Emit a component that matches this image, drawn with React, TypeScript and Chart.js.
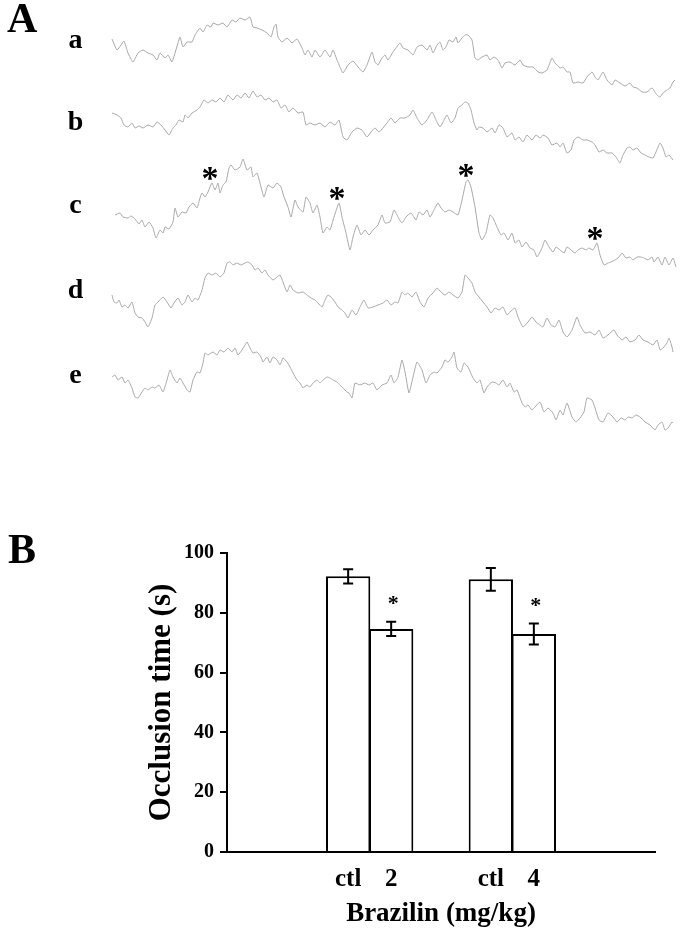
import React, { useEffect, useRef } from "react";
import { Chart, registerables } from "chart.js";

Chart.register(...registerables);

const SERIF = '"Liberation Serif", "Times New Roman", serif';
Chart.defaults.font.family = SERIF;

// ---------------- Panel A: recorded traces (time, amplitude) ----------------
const traceNames = ["a", "b", "c", "d", "e"];

const traceA: [number, number][] = [
  [112,61],[117,50],[121,55],[124,59],[128,47],[133,38],[138,47],[143,50],[148,47],[153,45],[157,40],[160,47],[165,42],[168,45],[172,38],[175,47],[178,57],[180,63],[183,53],[187,58],[192,58],[195,65],[200,72],[203,68],[207,75],[211,73],[213,77],[218,75],[223,77],[227,73],[232,80],[236,78],[240,82],[245,80],[250,83],[253,73],[257,72],[262,70],[267,67],[271,63],[274,73],[276,76],[278,63],[282,58],[287,62],[292,57],[297,61],[302,52],[305,45],[308,50],[312,43],[315,50],[320,43],[325,50],[330,43],[333,50],[337,40],[340,33],[343,27],[348,35],[353,39],[358,33],[363,28],[367,35],[372,48],[375,38],[378,35],[382,42],[385,45],[388,40],[393,48],[400,57],[403,52],[408,50],[413,45],[417,53],[422,55],[427,50],[430,55],[433,47],[437,55],[440,58],[443,50],[446,53],[449,60],[453,58],[456,63],[458,57],[462,62],[465,65],[468,65],[472,60],[475,42],[478,40],[482,43],[487,45],[490,40],[494,43],[498,40],[502,32],[505,37],[510,38],[515,35],[520,40],[523,35],[528,33],[533,33],[538,28],[542,27],[547,30],[552,42],[555,37],[560,32],[563,33],[567,28],[570,28],[573,17],[578,18],[583,17],[587,23],[592,28],[595,23],[598,20],[603,28],[607,20],[612,15],[615,20],[620,17],[625,14],[630,17],[633,13],[637,12],[642,8],[647,8],[652,12],[657,5],[660,3],[663,7],[667,10],[670,12],[673,18],[675,20]
];

const traceB: [number, number][] = [
  [112,52],[117,50],[121,47],[124,40],[128,38],[132,42],[135,37],[139,39],[143,37],[148,40],[153,38],[157,43],[161,40],[165,35],[169,30],[173,37],[176,40],[179,45],[183,43],[185,50],[188,47],[192,52],[197,55],[200,58],[204,65],[208,62],[212,65],[216,63],[220,67],[224,63],[228,70],[233,65],[237,70],[241,67],[245,72],[249,67],[253,74],[257,68],[261,70],[265,65],[269,67],[273,63],[277,65],[281,57],[285,60],[289,53],[293,57],[298,52],[303,53],[306,40],[310,42],[315,40],[320,42],[325,38],[330,43],[335,40],[339,45],[343,28],[347,25],[352,33],[357,37],[362,35],[367,28],[371,33],[375,37],[379,33],[383,37],[387,42],[391,47],[395,42],[400,47],[405,47],[410,50],[413,55],[417,47],[422,40],[427,45],[432,53],[436,45],[440,38],[443,43],[447,50],[451,42],[455,47],[458,57],[462,60],[465,63],[468,62],[471,55],[474,42],[477,35],[479,38],[483,37],[487,33],[492,37],[495,32],[499,40],[503,37],[507,28],[512,32],[515,25],[519,28],[523,23],[527,30],[532,25],[536,30],[540,27],[543,30],[548,27],[552,20],[557,22],[560,18],[563,22],[567,12],[571,15],[574,25],[578,28],[583,25],[587,25],[592,23],[595,20],[599,13],[603,15],[607,12],[612,12],[616,8],[620,2],[623,10],[627,17],[630,18],[633,15],[637,17],[641,12],[645,10],[649,8],[653,7],[656,13],[660,22],[663,17],[666,8],[669,10],[673,5]
];

const traceC: [number, number][] = [
  [115,60],[120,62],[123,58],[128,57],[131,59],[135,56],[139,51],[142,55],[145,48],[149,53],[153,47],[156,37],[160,45],[163,42],[165,48],[169,46],[173,53],[175,67],[178,58],[182,63],[186,62],[189,68],[193,72],[197,67],[200,77],[202,82],[205,78],[208,83],[210,88],[212,92],[215,85],[218,92],[220,82],[223,90],[226,93],[229,107],[231,110],[235,105],[240,108],[243,116],[247,105],[251,108],[253,98],[257,102],[261,88],[264,78],[268,90],[273,87],[277,92],[281,88],[284,78],[288,68],[291,58],[295,75],[298,68],[303,63],[306,78],[310,72],[313,62],[317,70],[320,58],[323,42],[327,48],[330,45],[334,58],[339,72],[342,58],[346,42],[350,25],[353,38],[357,50],[361,40],[365,45],[369,40],[373,45],[378,50],[382,60],[385,52],[390,53],[394,65],[398,58],[402,52],[406,58],[411,62],[416,55],[419,63],[423,60],[427,65],[430,58],[434,65],[438,72],[441,67],[445,63],[449,65],[453,63],[458,60],[462,75],[466,93],[468,95],[471,88],[475,68],[479,42],[482,35],[486,42],[490,60],[493,57],[497,48],[501,40],[504,42],[508,35],[512,42],[515,32],[519,35],[522,28],[526,33],[530,27],[534,25],[537,18],[542,27],[545,35],[549,28],[553,23],[556,28],[560,25],[564,22],[567,28],[571,25],[575,22],[578,25],[582,27],[586,25],[589,27],[593,25],[597,32],[600,20],[604,10],[608,12],[611,13],[615,15],[619,18],[622,22],[626,17],[630,18],[633,15],[637,18],[641,18],[644,17],[648,15],[652,18],[654,13],[658,18],[662,10],[665,18],[669,10],[673,17],[676,8]
];

const traceD: [number, number][] = [
  [112,60],[114,53],[117,52],[119,55],[122,48],[125,50],[128,47],[132,53],[135,42],[138,38],[142,37],[145,33],[148,28],[152,37],[155,50],[158,53],[163,58],[167,53],[171,47],[174,52],[178,57],[182,50],[185,53],[188,60],[192,53],[195,57],[198,55],[202,65],[205,77],[208,82],[212,80],[216,82],[220,78],[224,82],[227,92],[230,93],[233,90],[237,92],[241,90],[245,92],[248,93],[252,90],[255,85],[258,87],[262,82],[265,85],[268,80],[273,75],[277,78],[280,80],[283,73],[287,63],[290,70],[293,65],[298,62],[303,63],[307,60],[311,57],[315,55],[318,52],[322,48],[325,55],[328,60],[332,57],[335,53],[338,48],[342,45],[345,42],[348,37],[352,45],[356,40],[360,48],[364,55],[368,47],[373,48],[378,50],[383,52],[387,55],[391,50],[395,53],[398,52],[402,63],[405,60],[408,62],[412,58],[416,63],[420,53],[424,48],[428,57],[433,62],[437,67],[441,63],[445,60],[449,63],[453,60],[458,57],[462,63],[465,80],[468,77],[472,72],[475,63],[479,58],[483,53],[487,48],[491,42],[495,47],[499,45],[503,48],[507,40],[510,43],[515,47],[518,38],[523,28],[528,33],[532,38],[536,33],[540,30],[543,28],[547,37],[551,30],[555,28],[559,35],[563,23],[567,18],[572,25],[577,38],[580,30],[585,22],[590,23],[595,20],[599,25],[603,17],[608,20],[614,25],[617,20],[622,15],[626,18],[630,13],[635,15],[639,20],[643,15],[648,13],[653,10],[657,15],[660,5],[663,7],[667,12],[669,17],[672,8],[673,3]
];

const traceE: [number, number][] = [
  [112,58],[115,60],[118,55],[122,58],[125,52],[128,55],[132,47],[135,38],[138,37],[142,43],[145,47],[148,45],[152,48],[155,47],[159,50],[163,43],[167,55],[170,65],[173,58],[177,52],[180,57],[183,52],[187,45],[190,43],[193,55],[197,63],[200,62],[203,72],[205,82],[208,80],[213,83],[217,80],[220,85],[224,83],[228,87],[232,83],[235,87],[238,80],[242,85],[245,90],[247,93],[250,87],[253,82],[257,83],[261,78],[263,73],[267,78],[270,72],[273,78],[277,75],[280,70],[283,77],[287,73],[290,68],[293,62],[297,55],[300,52],[303,47],[307,50],[310,48],[313,52],[317,55],[320,52],[323,55],[327,58],[330,57],[333,55],[337,53],[340,50],[343,47],[347,43],[349,42],[352,37],[355,52],[360,50],[365,52],[369,50],[373,52],[377,45],[382,50],[387,52],[391,60],[394,52],[398,58],[402,75],[405,63],[409,42],[413,58],[417,73],[422,65],[426,52],[430,60],[434,63],[437,62],[442,68],[445,75],[448,73],[452,78],[454,83],[457,67],[461,63],[464,72],[468,68],[473,57],[477,52],[480,55],[484,42],[487,48],[492,53],[496,52],[499,50],[503,55],[507,48],[510,52],[514,43],[517,45],[522,32],[525,28],[528,30],[532,25],[535,28],[540,33],[544,23],[548,27],[553,22],[556,15],[560,25],[563,20],[567,32],[572,18],[576,13],[580,17],[584,23],[587,37],[592,35],[595,27],[599,15],[603,13],[608,22],[613,18],[617,13],[621,17],[625,15],[628,18],[632,17],[636,20],[640,18],[645,13],[650,10],[655,5],[658,10],[662,13],[665,5],[668,7],[672,13],[673,12]
];

const traces = [traceA, traceB, traceC, traceD, traceE];
// times of the peaks marked with an asterisk in trace "c"
const starredTrace = 2;
const starredPeakTimes = [212, 339, 468, 597];

// ---------------- Panel B: occlusion time ----------------
const categories = ["", "2", "4", ""];
const controlLabel = "ctl";
const ctlMean = [null, 92.2, 91.2, null];
const ctlSem = [null, 2.4, 3.8, null];
const brazilinMean = [null, 74.6, 72.9, null];
const brazilinSem = [null, 2.4, 3.5, null];
const brazilinSignificant = [false, true, true, false];
const yTicks = [0, 20, 40, 60, 80, 100];

// layout (not data)
const traceBaselineY = [100, 165, 275, 355, 435];
const traceLabelBaseline = [48, 130, 213, 298, 383];

function drawCenteredGlyph(ctx: CanvasRenderingContext2D, text: string, cx: number, cy: number) {
  const m = ctx.measureText(text);
  const asc = m.actualBoundingBoxAscent;
  const desc = m.actualBoundingBoxDescent;
  ctx.textAlign = "center";
  ctx.textBaseline = "alphabetic";
  ctx.fillText(text, cx, cy + (asc - desc) / 2);
}

function TracePanel() {
  const ref = useRef<HTMLCanvasElement | null>(null);
  useEffect(() => {
    const labelsPlugin = {
      id: "panelALabels",
      afterDraw(chart: any) {
        const ctx = chart.ctx as CanvasRenderingContext2D;
        ctx.save();
        ctx.fillStyle = "#000";
        ctx.textAlign = "left";
        ctx.textBaseline = "alphabetic";
        ctx.font = `bold 42px ${SERIF}`;
        ctx.fillText("A", 7, 32);
        ctx.font = `bold 28px ${SERIF}`;
        ctx.textAlign = "center";
        traceNames.forEach((n, i) => ctx.fillText(n, 75.5, traceLabelBaseline[i]));
        const xs = chart.scales.x;
        const ys = chart.scales.y;
        ctx.font = `bold 34px ${SERIF}`;
        const tr = traces[starredTrace];
        starredPeakTimes.forEach((t) => {
          let best = tr[0];
          tr.forEach((p) => { if (Math.abs(p[0] - t) < Math.abs(best[0] - t)) best = p; });
          const px = xs.getPixelForValue(best[0]);
          const py = ys.getPixelForValue(best[1] - traceBaselineY[starredTrace]);
          drawCenteredGlyph(ctx, "*", px - 2, py - 10);
        });
        ctx.restore();
      },
    };
    const chart = new Chart(ref.current as HTMLCanvasElement, {
      type: "line",
      data: {
        datasets: traces.map((tr, i) => ({
          label: traceNames[i],
          data: tr.map(([t, v]) => ({ x: t, y: v - traceBaselineY[i] })),
          borderColor: "#a8a8a8",
          borderWidth: 1,
          pointRadius: 0,
          tension: 0.15,
          fill: false,
        })),
      },
      options: {
        responsive: false,
        animation: false,
        events: [],
        layout: { padding: 0 },
        plugins: { legend: { display: false }, tooltip: { enabled: false } },
        scales: {
          x: { type: "linear", display: false, min: 0, max: 685 },
          y: { type: "linear", display: false, min: -460, max: 0 },
        },
      },
      plugins: [labelsPlugin],
    } as any);
    return () => chart.destroy();
  }, []);
  return (
    <canvas
      ref={ref}
      width={685}
      height={460}
      style={{ position: "absolute", left: 0, top: 0, width: 685, height: 460, display: "block" }}
    />
  );
}

function BarPanel() {
  const ref = useRef<HTMLCanvasElement | null>(null);
  useEffect(() => {
    const annot = {
      id: "panelBAnnot",
      afterDatasetsDraw(chart: any) {
        const ctx = chart.ctx as CanvasRenderingContext2D;
        const ys = chart.scales.y;
        const means = [ctlMean, brazilinMean];
        const sems = [ctlSem, brazilinSem];
        ctx.save();
        ctx.strokeStyle = "#000";
        ctx.fillStyle = "#000";
        ctx.lineWidth = 2;
        means.forEach((arr, di) => {
          const meta = chart.getDatasetMeta(di);
          arr.forEach((m, j) => {
            if (m == null) return;
            const e = sems[di][j] as number;
            const x = meta.data[j].x;
            const yt = ys.getPixelForValue(m + e);
            const yb = ys.getPixelForValue(m - e);
            ctx.beginPath();
            ctx.moveTo(x, yt);
            ctx.lineTo(x, yb);
            ctx.moveTo(x - 5, yt);
            ctx.lineTo(x + 5, yt);
            ctx.moveTo(x - 5, yb);
            ctx.lineTo(x + 5, yb);
            ctx.stroke();
            // labels under bars
            ctx.font = `bold 25px ${SERIF}`;
            ctx.textAlign = "center";
            ctx.textBaseline = "alphabetic";
            ctx.fillText(di === 0 ? controlLabel : categories[j], x, 366);
            if (di === 1 && brazilinSignificant[j]) {
              ctx.font = `bold 22px ${SERIF}`;
              drawCenteredGlyph(ctx, "*", x + 2, yt - 21);
            }
          });
        });
        ctx.font = `bold 42px ${SERIF}`;
        ctx.textAlign = "left";
        ctx.textBaseline = "alphabetic";
        ctx.fillText("B", 8, 43);
        ctx.restore();
      },
    };
    const chart = new Chart(ref.current as HTMLCanvasElement, {
      type: "bar",
      data: {
        labels: categories,
        datasets: [
          {
            label: controlLabel,
            data: ctlMean,
            backgroundColor: "#fff",
            borderColor: "#000",
            borderWidth: 2,
            categoryPercentage: 0.603,
            barPercentage: 1.03,
          },
          {
            label: "Brazilin",
            data: brazilinMean,
            backgroundColor: "#fff",
            borderColor: "#000",
            borderWidth: 2,
            categoryPercentage: 0.603,
            barPercentage: 1.03,
          },
        ],
      },
      options: {
        responsive: false,
        animation: false,
        events: [],
        layout: { padding: { left: 0, right: 30, top: 33, bottom: 0 } },
        plugins: { legend: { display: false }, tooltip: { enabled: false } },
        scales: {
          x: {
            type: "category",
            offset: false,
            grid: { display: false },
            ticks: { display: false },
            border: { display: true, color: "#000", width: 2 },
            title: {
              display: true,
              text: "Brazilin (mg/kg)",
              color: "#000",
              font: { family: SERIF, size: 27, weight: "bold" },
              padding: { top: 0, bottom: 5 },
            },
            afterFit: (s: any) => { s.height = 83; },
          },
          y: {
            type: "linear",
            min: 0,
            max: 100,
            afterBuildTicks: (s: any) => { s.ticks = yTicks.map((v) => ({ value: v })); },
            ticks: {
              color: "#000",
              font: { family: SERIF, size: 20, weight: "bold" },
              padding: 6,
            },
            grid: { drawOnChartArea: false, drawTicks: true, tickLength: 7, color: "#000", lineWidth: 2 },
            border: { display: true, color: "#000", width: 2 },
            title: {
              display: true,
              text: "Occlusion time (s)",
              color: "#000",
              font: { family: SERIF, size: 31, weight: "bold" },
              padding: { top: 143, bottom: 0 },
            },
            afterFit: (s: any) => { s.width = 227; },
          },
        },
      },
      plugins: [annot],
    } as any);
    return () => chart.destroy();
  }, []);
  return (
    <canvas
      ref={ref}
      width={685}
      height={415}
      style={{ position: "absolute", left: 0, top: 520, width: 685, height: 415, display: "block" }}
    />
  );
}

export default function App() {
  return (
    <div style={{ position: "absolute", left: 0, top: 0, width: 685, height: 935, background: "#fff", overflow: "hidden" }}>
      <TracePanel />
      <BarPanel />
    </div>
  );
}
